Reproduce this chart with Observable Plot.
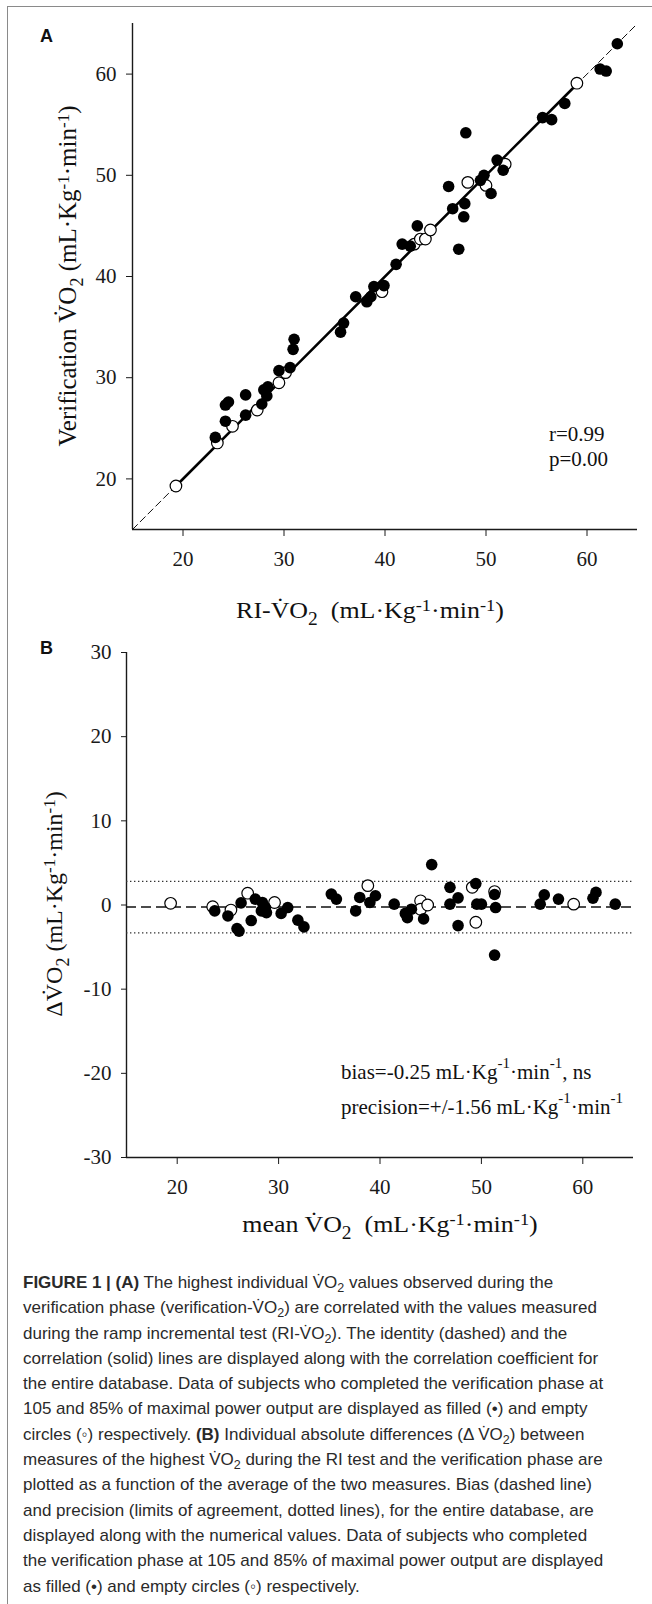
<!DOCTYPE html>
<html>
<head>
<meta charset="utf-8">
<script src="https://cdn.jsdelivr.net/npm/d3@7"></script>
<script src="https://cdn.jsdelivr.net/npm/@observablehq/plot@0.6"></script>
<style>
  html, body { margin: 0; padding: 0; background: #fff; }
  #page { position: relative; width: 652px; height: 1604px; overflow: hidden; background: #fff; }
  #frame { position: absolute; left: 7px; top: 6px; width: 700px; height: 1700px;
           border-left: 1.5px solid #8a8a8a; border-top: 1.5px solid #8a8a8a; }
  .abs { position: absolute; white-space: nowrap; }
  .serif { font-family: "Liberation Serif", "Times New Roman", serif; color: #111; line-height: 1; }
  .panel { font-family: "Liberation Sans", Arial, sans-serif; font-weight: bold; font-size: 18px; line-height: 1; color: #111; }
  .lab .sp { position: relative; font-size: 17px; top: -7px; }
  .lab .sb { position: relative; font-size: 18px; top: 7px; }
  .ann .sp { position: relative; font-size: 15px; top: -11px; }
  #caption { position: absolute; left: 23px; top: 1270px; font-family: "Liberation Sans", Arial, sans-serif;
             font-size: 17px; color: #2a2a2a; }
  #caption div { height: 25.3px; line-height: 25.3px; white-space: nowrap; }
  #caption .cs { position: relative; font-size: 12.5px; top: 4px; }
  svg { overflow: visible; }
  #page svg, #page svg g, #page svg text { font-family: "Liberation Serif", "Times New Roman", serif !important; }
  #page svg text { font-size: 21px !important; fill: #1a1a1a; font-variant: normal !important; }
</style>
</head>
<body>
<div id="page">
  <div id="frame"></div>
  <div id="plotA" class="abs" style="left:0;top:0;"></div>
  <div id="plotB" class="abs" style="left:0;top:630px;"></div>
</div>
<script>
// ---------- Panel A data (RI-VO2 vs verification VO2) ----------
const aFilledX = [23.2,24.2,24.2,24.5,26.2,26.2,27.8,28.0,28.3,28.4,29.5,30.6,30.9,31.0,35.6,35.9,37.1,38.2,38.6,38.9,39.9,41.1,41.7,42.5,43.2,46.3,46.7,47.9,47.8,47.3,48.0,49.45,49.8,50.5,51.1,51.7,55.6,56.5,57.8,61.3,61.9,63.0];
const aFilledY = [24.1,25.7,27.3,27.6,26.3,28.3,27.4,28.8,28.2,29.1,30.7,31.0,32.8,33.8,34.5,35.4,38.0,37.5,38.0,39.0,39.1,41.2,43.2,43.0,45.0,48.9,46.7,47.2,45.9,42.7,54.2,49.5,50.0,48.2,51.5,50.5,55.7,55.5,57.1,60.5,60.3,63.0];
const aOpenX = [19.3,23.4,24.9,27.35,29.5,30.15,39.7,42.9,43.5,44.0,44.5,48.2,50.0,51.9,59.0];
const aOpenY = [19.3,23.55,25.2,26.8,29.5,30.5,38.5,43.2,43.7,43.7,44.6,49.3,49.0,51.1,59.1];
const identityX = [15, 65];
const identityY = [15, 65];
const regressionX = [19.3, 59.0];
const regressionY = [19.3, 59.0];
const axisTicksA = [20, 30, 40, 50, 60];
const statsA = ["r=0.99", "p=0.00"];

// ---------- Panel B data (Bland-Altman) ----------
const bFilledMean = [23.7,25.0,25.9,26.1,26.3,27.3,27.7,28.4,28.7,28.8,28.3,30.25,30.9,31.9,32.5,35.2,35.7,37.6,38.0,39.0,39.55,41.4,42.5,42.7,43.1,44.3,45.1,46.9,46.9,47.7,47.7,49.45,49.55,50.0,51.3,51.4,51.3,55.8,56.2,57.6,61.0,61.3,63.2];
const bFilledDiff = [-0.7,-1.3,-2.8,-3.1,0.25,-1.85,0.7,0.3,-0.3,-0.9,-0.7,-1.0,-0.3,-1.8,-2.6,1.3,0.7,-0.7,0.9,0.3,1.1,0.1,-1.0,-1.5,-0.5,-1.65,4.8,2.1,0.1,0.85,-2.45,2.55,0.1,0.1,1.25,-0.3,-5.95,0.1,1.2,0.7,0.8,1.5,0.1];
const bOpenMean = [19.35,23.5,25.3,26.95,29.6,38.8,44.0,44.0,44.7,49.1,49.45,51.3,59.1];
const bOpenDiff = [0.2,-0.2,-0.6,1.4,0.3,2.3,0.5,-0.5,0.0,2.1,-2.05,1.6,0.1];
const biasB = [-0.25];
const limitsB = [2.81, -3.31];
const xTicksB = [20, 30, 40, 50, 60];
const yTicksB = [-30, -20, -10, 0, 10, 20, 30];

// ---------- tables built from arrays ----------
const zip = (xs, ys) => xs.map((x, i) => ({x, y: ys[i]}));
const filledA = zip(aFilledX, aFilledY);
const openA = zip(aOpenX, aOpenY);
const identity = zip(identityX, identityY);
const regression = zip(regressionX, regressionY);
const filledB = zip(bFilledMean, bFilledDiff);
const openB = zip(bOpenMean, bOpenDiff);

const makeStyle = () => ({fontFamily: "Liberation Serif, Times New Roman, serif", fontSize: "21px", color: "#1a1a1a", background: "transparent", overflow: "visible"});
const fmt = d => String(d);
const R = 5.8;

const plotA = Plot.plot({
  width: 652, height: 580,
  marginLeft: 132, marginRight: 15, marginTop: 23, marginBottom: 51,
  x: {domain: [15, 65], ticks: axisTicksA, tickSize: 7, tickPadding: 15, label: null, tickFormat: fmt},
  y: {domain: [15, 65], ticks: axisTicksA, tickSize: 6, tickPadding: 10, label: null, tickFormat: fmt},
  style: makeStyle(),
  marks: [
    Plot.ruleX([15], {strokeWidth: 1.4}),
    Plot.ruleY([15], {strokeWidth: 1.4}),
    Plot.line(identity, {x: "x", y: "y", stroke: "#111", strokeWidth: 1, strokeDasharray: "7,4"}),
    Plot.line(regression, {x: "x", y: "y", stroke: "#000", strokeWidth: 2.6}),
    Plot.dot(openA, {x: "x", y: "y", r: R, fill: "white", stroke: "#000", strokeWidth: 1.2}),
    Plot.dot(filledA, {x: "x", y: "y", r: R, fill: "#000"})
  ]
});
document.getElementById("plotA").appendChild(plotA);

const plotB = Plot.plot({
  width: 652, height: 578,
  marginLeft: 126, marginRight: 19, marginTop: 22, marginBottom: 51,
  x: {domain: [15, 65], ticks: xTicksB, tickSize: 7, tickPadding: 15, label: null, tickFormat: fmt},
  y: {domain: [-30, 30], ticks: yTicksB, tickSize: 5, tickPadding: 10, label: null, tickFormat: fmt},
  style: makeStyle(),
  marks: [
    Plot.ruleX([15], {strokeWidth: 1.4}),
    Plot.ruleY([-30], {strokeWidth: 1.4}),
    Plot.ruleY(limitsB, {stroke: "#333", strokeWidth: 1.4, strokeDasharray: "1.4,2.6"}),
    Plot.ruleY(biasB, {stroke: "#111", strokeWidth: 1.5, strokeDasharray: "10,5"}),
    Plot.dot(openB, {x: "x", y: "y", r: R, fill: "white", stroke: "#000", strokeWidth: 1.2}),
    Plot.dot(filledB, {x: "x", y: "y", r: R, fill: "#000"})
  ]
});
document.getElementById("plotB").appendChild(plotB);

// ---------- text overlays ----------
const page = document.getElementById("page");
function addText(html, cls, css) {
  const d = document.createElement("div");
  d.className = "abs " + cls;
  d.innerHTML = html;
  Object.assign(d.style, css);
  page.appendChild(d);
  return d;
}
const VO2 = 'V\u0307O<span class="sb">2</span>';
const unit = '(mL\u00b7Kg<span class="sp">-1</span>\u00b7min<span class="sp">-1</span>)';

addText("A", "panel", {left: "40px", top: "27px"});
addText("B", "panel", {left: "40px", top: "639px"});

addText("RI-" + VO2 + "&nbsp;&nbsp;" + unit, "serif lab",
  {left: "370px", top: "598px", fontSize: "24px", transform: "translateX(-50%) scaleX(1.08)"});
addText("Verification " + VO2 + " " + unit, "serif lab",
  {left: "67px", top: "276px", fontSize: "25px", transform: "translate(-50%,-50%) rotate(-90deg)"});
addText(statsA[0], "serif", {left: "549px", top: "424px", fontSize: "21px"});
addText(statsA[1], "serif", {left: "549px", top: "449px", fontSize: "21px"});

addText("mean " + VO2 + "&nbsp;&nbsp;" + unit, "serif lab",
  {left: "390px", top: "1212px", fontSize: "24px", transform: "translateX(-50%) scaleX(1.08)"});
addText("\u0394" + VO2 + " " + unit, "serif lab",
  {left: "54px", top: "904px", fontSize: "24px", transform: "translate(-50%,-50%) rotate(-90deg)"});
addText('bias=-0.25 mL\u00b7Kg<span class="sp">-1</span>\u00b7min<span class="sp">-1</span>, ns', "serif ann",
  {left: "341px", top: "1062px", fontSize: "21px"});
addText('precision=+/-1.56 mL\u00b7Kg<span class="sp">-1</span>\u00b7min<span class="sp">-1</span>', "serif ann",
  {left: "341px", top: "1097px", fontSize: "21px"});

// ---------- caption ----------
const cVO2 = 'V\u0307O<span class="cs">2</span>';
const captionLines = [
  '<b>FIGURE 1 | (A)</b> The highest individual ' + cVO2 + ' values observed during the',
  'verification phase (verification-' + cVO2 + ') are correlated with the values measured',
  'during the ramp incremental test (RI-' + cVO2 + '). The identity (dashed) and the',
  'correlation (solid) lines are displayed along with the correlation coefficient for',
  'the entire database. Data of subjects who completed the verification phase at',
  '105 and 85% of maximal power output are displayed as filled (\u2022) and empty',
  'circles (\u25e6) respectively. <b>(B)</b> Individual absolute differences (\u0394 ' + cVO2 + ') between',
  'measures of the highest ' + cVO2 + ' during the RI test and the verification phase are',
  'plotted as a function of the average of the two measures. Bias (dashed line)',
  'and precision (limits of agreement, dotted lines), for the entire database, are',
  'displayed along with the numerical values. Data of subjects who completed',
  'the verification phase at 105 and 85% of maximal power output are displayed',
  'as filled (\u2022) and empty circles (\u25e6) respectively.'
];
const cap = document.createElement("div");
cap.id = "caption";
cap.innerHTML = captionLines.map(l => "<div>" + l + "</div>").join("");
page.appendChild(cap);
</script>
</body>
</html>
